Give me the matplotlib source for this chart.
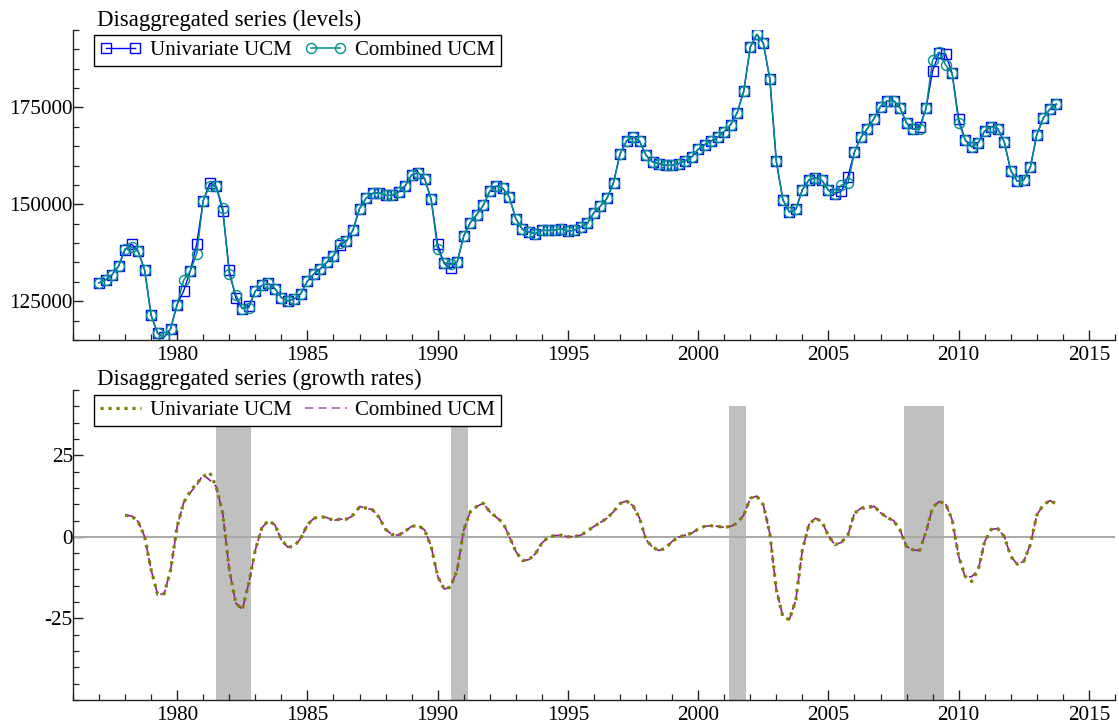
import numpy as np
import matplotlib
matplotlib.use("Agg")
import matplotlib.pyplot as plt
from matplotlib.ticker import MultipleLocator, FixedLocator
from matplotlib.lines import Line2D

plt.rcParams['font.family'] = ['Liberation Serif', 'DejaVu Serif']
plt.rcParams['font.size'] = 14.5
plt.rcParams['axes.unicode_minus'] = False

# quarterly levels, 1977Q1 .. 2013Q4
lev_start = 1977.0
univ_levels = [
    129750, 130520, 131820, 134060, 138280, 139740, 137930, 133110,
    121390, 116730, 115700, 117940, 124150, 127680, 132760, 139740,
    150950, 155430, 154650, 148280, 132940, 125870, 123110, 123720,
    127590, 129060, 129580, 128280, 125960, 125100, 125610, 126990,
    130180, 132070, 133400, 135090, 136700, 139490, 140520, 143360,
    148880, 151550, 152840, 153020, 152330, 152330, 153190, 154740,
    157580, 158190, 156640, 151290, 139660, 134750, 133450, 135170,
    141810, 145260, 147330, 149740, 153360, 154740, 154140, 151900,
    146290, 143540, 142850, 142420, 143280, 143280, 143360, 143710,
    143020, 143360, 144200, 145090, 147850, 149570, 151550, 155600,
    163010, 166370, 167490, 166290, 162670, 160940, 160430, 160080,
    160080, 160510, 161200, 162240, 164220, 165430, 166370, 167320,
    168790, 170600, 173700, 179220, 190590, 193870, 191630, 182400,
    161120, 151210, 148020, 148710, 153790, 156290, 156890, 156200,
    153620, 152750, 153450, 157150, 163530, 167320, 169560, 172150,
    175250, 176720, 176800, 174910, 170940, 169390, 169990, 174820,
    184470, 189040, 188780, 183780, 171980, 166630, 164820, 165940,
    168960, 170080, 169560, 166120, 158700, 155950, 156290, 159570,
    168010, 172320, 174560, 175850,
]
comb_levels = [
    129750, 130520, 131820, 134060, 138540, 139000, 137930, 133110,
    121390, 116730, 115700, 117940, 124150, 130440, 132760, 137250,
    150950, 154800, 154650, 149140, 131900, 126730, 123110, 123300,
    127590, 129060, 129580, 128280, 125960, 125100, 125610, 126990,
    130180, 132070, 133400, 135090, 136700, 139920, 140520, 143360,
    148880, 151550, 152840, 153020, 152330, 152330, 153190, 154740,
    157580, 158190, 156640, 151290, 138370, 134920, 134480, 135170,
    141810, 145260, 147330, 149740, 153360, 154740, 154140, 151900,
    146290, 143540, 142850, 142420, 143280, 143280, 143360, 143710,
    143020, 143360, 144200, 145090, 147850, 149570, 151550, 155600,
    163010, 166370, 167490, 166290, 162670, 160940, 160430, 160080,
    160080, 160510, 161200, 162240, 164220, 165430, 166370, 167320,
    168790, 170600, 173700, 179220, 190590, 193870, 191630, 182400,
    161120, 151210, 148020, 148710, 153790, 156290, 156800, 156200,
    153620, 152750, 155000, 155430, 163530, 167320, 169560, 172150,
    175250, 176720, 176800, 174910, 170940, 169390, 169390, 174820,
    187320, 189300, 185940, 183780, 171120, 166630, 164820, 165940,
    168960, 170080, 169560, 166120, 158700, 155950, 156290, 159570,
    168010, 172320, 174560, 175850,
]

# year-on-year growth rates, 1978Q1 ..
gr_start = 1978.0
univ_growth = [
    6.6, 6.4, 4.7, 0.1, -10.1, -17.6, -17.5, -10.1,
    3.2, 10.5, 13.9, 16.4, 18.5, 19.7, 15.4, 7.2,
    -10.1, -20.3, -22.3, -14.2, -4.0, 2.7, 5.0, 3.7,
    -0.9, -3.2, -2.8, -0.4, 3.7, 5.7, 6.2, 5.9,
    5.0, 5.4, 5.4, 6.7, 9.1, 8.8, 8.3, 6.0,
    2.3, 0.7, 0.5, 1.7, 3.2, 3.5, 2.1, -3.0,
    -12.1, -16.0, -15.4, -10.1, 2.1, 7.7, 9.3, 10.3,
    7.7, 6.0, 4.4, 0.1, -4.5, -7.3, -7.0, -5.2,
    -1.9, -0.1, 0.4, 0.5, 0.0, 0.1, 0.5, 1.8,
    3.2, 4.4, 5.7, 7.7, 10.2, 11.0, 9.5, 5.7,
    -0.9, -3.2, -4.2, -3.5, -1.4, -0.1, 0.5, 1.1,
    2.4, 3.2, 3.4, 3.2, 2.9, 3.2, 4.2, 6.7,
    11.8, 12.5, 9.8, 1.1, -16.2, -24.4, -25.4, -19.3,
    -4.0, 3.7, 5.7, 4.7, 0.3, -2.4, -1.7, 0.6,
    7.2, 8.8, 9.1, 9.4, 7.4, 5.9, 5.0, 2.1,
    -3.0, -4.0, -4.2, 1.6, 9.1, 10.8, 10.1, 5.2,
    -6.0, -12.1, -13.7, -10.1, -1.4, 2.3, 2.5, 0.1,
    -6.0, -8.4, -7.5, -2.4, 6.7, 9.8, 11.1, 10.1,
]
comb_growth = [
    6.6, 6.4, 4.7, 0.1, -10.1, -17.6, -17.5, -10.1,
    3.2, 10.5, 13.5, 15.9, 19.0, 17.4, 15.4, 7.2,
    -10.1, -20.3, -22.3, -14.2, -4.0, 2.7, 5.0, 3.7,
    -0.9, -3.2, -2.8, -0.4, 3.7, 5.7, 6.2, 5.9,
    5.0, 5.4, 5.4, 6.5, 9.3, 8.8, 8.3, 6.0,
    2.3, 0.7, 0.5, 1.7, 3.2, 3.5, 2.1, -3.0,
    -12.1, -16.0, -15.4, -10.1, 2.1, 7.7, 9.3, 10.3,
    7.7, 6.0, 4.4, 0.1, -4.5, -7.3, -7.0, -5.2,
    -1.9, -0.1, 0.4, 0.5, 0.0, 0.1, 0.5, 1.8,
    3.2, 4.4, 5.7, 7.7, 10.2, 11.0, 9.5, 5.7,
    -0.9, -3.2, -4.2, -3.5, -1.4, -0.1, 0.5, 1.1,
    2.4, 3.2, 3.4, 3.2, 2.9, 3.2, 4.2, 6.7,
    11.8, 12.5, 9.8, 1.1, -16.2, -24.4, -25.4, -19.3,
    -4.0, 3.7, 5.7, 4.7, 0.3, -2.4, -1.7, 0.6,
    7.2, 8.8, 8.5, 9.4, 7.4, 5.9, 5.0, 2.1,
    -3.0, -4.0, -4.2, 1.6, 9.1, 10.8, 10.1, 5.2,
    -6.0, -12.4, -12.2, -10.1, -1.4, 2.3, 2.5, 0.1,
    -6.0, -8.4, -7.5, -2.4, 6.7, 9.8, 11.1, 10.1,
]

# recession bands (start, end)
rec_start = [1981.50, 1990.50, 2001.17, 2007.92]
rec_end = [1982.83, 1991.17, 2001.83, 2009.42]

t_lev = lev_start + 0.25 * np.arange(len(univ_levels))
t_gr = gr_start + 0.25 * np.arange(len(univ_growth))

fig = plt.figure(figsize=(11.19, 7.28), dpi=100)
ax1 = fig.add_axes([0.0652, 0.533, 0.9312, 0.4258])
ax2 = fig.add_axes([0.0652, 0.0385, 0.9312, 0.4258])


def style_axis(ax):
    for s in ['top', 'right']:
        ax.spines[s].set_visible(False)
    for s in ['left', 'bottom']:
        ax.spines[s].set_linewidth(1.0)
        ax.spines[s].set_color('#222222')
    ax.set_xlim(1976, 2016)
    ax.xaxis.set_major_locator(MultipleLocator(5))
    ax.xaxis.set_minor_locator(MultipleLocator(1))
    ax.tick_params(which='both', direction='in', top=False, right=False,
                   color='#222222', labelsize=15.3)
    ax.tick_params(which='major', length=7, width=1.0)
    ax.tick_params(which='minor', length=4, width=0.9)
    ax.tick_params(axis='y', pad=0)
    ax.tick_params(axis='x', pad=4)


leg_kw = dict(loc='upper left', bbox_to_anchor=(0.02, 0.985), borderaxespad=0,
              ncol=2, handlelength=2.0, columnspacing=0.65, handletextpad=0.4,
              borderpad=0.28, fancybox=False, framealpha=1, edgecolor='black',
              fontsize=15)

# top panel: levels
style_axis(ax1)
ax1.plot(t_lev, univ_levels, color='#0000ff', lw=1.0, marker='s', ms=7.2,
         mfc='none', mec='#0000ff', mew=1.0, label='Univariate UCM')
ax1.plot(t_lev, comb_levels, color='#008a8a', lw=1.1, marker='o', ms=7.2,
         mfc='none', mec='#009090', mew=1.0, label='Combined UCM')
ax1.set_ylim(115000, 195000)
ax1.yaxis.set_major_locator(MultipleLocator(25000))
ax1.yaxis.set_minor_locator(MultipleLocator(5000))
ax1.text(0.0227, 1.014, 'Disaggregated series (levels)', transform=ax1.transAxes,
         va='baseline', ha='left', fontsize=16.5)
leg1 = ax1.legend(numpoints=2, **leg_kw)
leg1.get_frame().set_linewidth(1.0)

# bottom panel: growth rates
style_axis(ax2)
for a, b in zip(rec_start, rec_end):
    ax2.fill_between([a, b], -50, 40, color='#c0c0c0', lw=0, zorder=1)
ax2.axhline(0, color='#aaaaaa', lw=1.5, zorder=2)
ax2.plot(t_gr, comb_growth, color='#9a1a9a', lw=1.2, dashes=(5, 3), zorder=3)
ax2.plot(t_gr, univ_growth, color='#808000', lw=2.3, ls=(0, (1, 1.5)), zorder=4)
ax2.set_ylim(-50, 45)
ax2.yaxis.set_major_locator(FixedLocator([-25, 0, 25]))
ax2.yaxis.set_minor_locator(MultipleLocator(5))
ax2.text(0.0227, 1.016, 'Disaggregated series (growth rates)', transform=ax2.transAxes,
         va='baseline', ha='left', fontsize=16.5)
h_univ = Line2D([], [], color='#808000', lw=2.3, ls=(0, (1, 1.5)))
h_comb = Line2D([], [], color='#b060b0', lw=1.2, dashes=(5, 3))
leg2 = ax2.legend([h_univ, h_comb], ['Univariate UCM', 'Combined UCM'], **leg_kw)
leg2.get_frame().set_linewidth(1.0)
leg2.set_zorder(10)

fig.savefig('out.png', dpi=100)
